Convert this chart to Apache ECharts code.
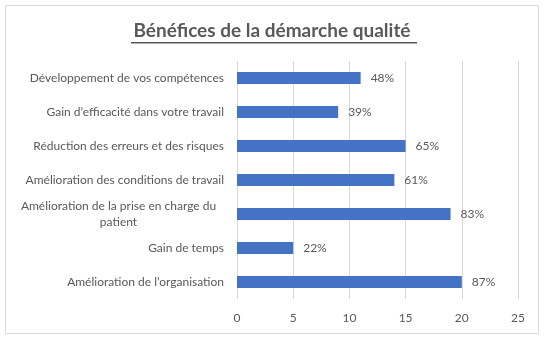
<!DOCTYPE html>
<html>
<head>
<meta charset="utf-8">
<script src="https://cdn.jsdelivr.net/npm/echarts@6/dist/echarts.min.js"></script>
<style>
  html, body { margin: 0; padding: 0; background: #fff; }
  #chart { width: 544px; height: 339px; }
</style>
</head>
<body>
<div id="chart"></div>
<script>
// catégories (de haut en bas)
var categories = [
    'Développement de vos compétences',
    'Gain d\u2019efficacité dans votre travail',
    'Réduction des erreurs et des risques',
    'Amélioration des conditions de travail',
    'Amélioration de la prise en charge du patient',
    'Gain de temps',
    'Amélioration de l\u2019organisation'
];
// nombre de réponses
var counts = [11, 9, 15, 14, 19, 5, 20];
// pourcentages affichés
var percents = ['48%', '39%', '65%', '61%', '83%', '22%', '87%'];
var xTicks = [0, 5, 10, 15, 20, 25];

var font = 'Lato';
var grey = '#595959';

var myChart = echarts.init(document.getElementById('chart'));
myChart.setOption({
    animation: false,
    textStyle: { fontFamily: font },
    graphic: [
        {
            type: 'rect',
            shape: { x: 5.5, y: 5.5, width: 533, height: 328 },
            style: { fill: 'none', stroke: '#D9D9D9', lineWidth: 1 },
            silent: true
        },
        {
            type: 'text',
            left: 'center',
            top: 21,
            style: {
                text: 'Bénéfices de la démarche qualité',
                font: 'bold 19px "' + font + '"',
                fill: grey
            }
        },
        {
            type: 'rect',
            shape: { x: 131, y: 42, width: 286, height: 1.5 },
            style: { fill: grey },
            silent: true
        }
    ],
    grid: {
        left: 237,
        right: 26,
        top: 61,
        bottom: 40,
        containLabel: false
    },
    xAxis: {
        type: 'value',
        min: xTicks[0],
        max: xTicks[xTicks.length - 1],
        interval: 5,
        axisLine: { show: false },
        axisTick: { show: false },
        axisLabel: { color: grey, fontSize: 12, margin: 13, fontFamily: font },
        splitLine: { lineStyle: { color: '#D9D9D9', width: 1 } }
    },
    yAxis: {
        type: 'category',
        inverse: true,
        data: categories,
        axisLine: { show: false },
        axisTick: { show: false },
        axisLabel: {
            color: grey,
            fontSize: 12,
            margin: 13,
            fontFamily: font,
            formatter: function (v) {
                if (v.indexOf('prise en charge') >= 0) {
                    return '{c|Amélioration de la prise en charge du}\n{c|patient}';
                }
                return v;
            },
            rich: {
                c: { width: 211, align: 'center', color: grey, fontSize: 12, fontFamily: font, lineHeight: 16 }
            }
        }
    },
    series: [{
        type: 'bar',
        data: counts,
        barWidth: 12,
        itemStyle: { color: '#4472C4' },
        label: {
            show: true,
            position: 'right',
            distance: 10,
            color: grey,
            fontSize: 12,
            fontFamily: font,
            formatter: function (p) { return percents[p.dataIndex]; }
        }
    }]
});
</script>
</body>
</html>
